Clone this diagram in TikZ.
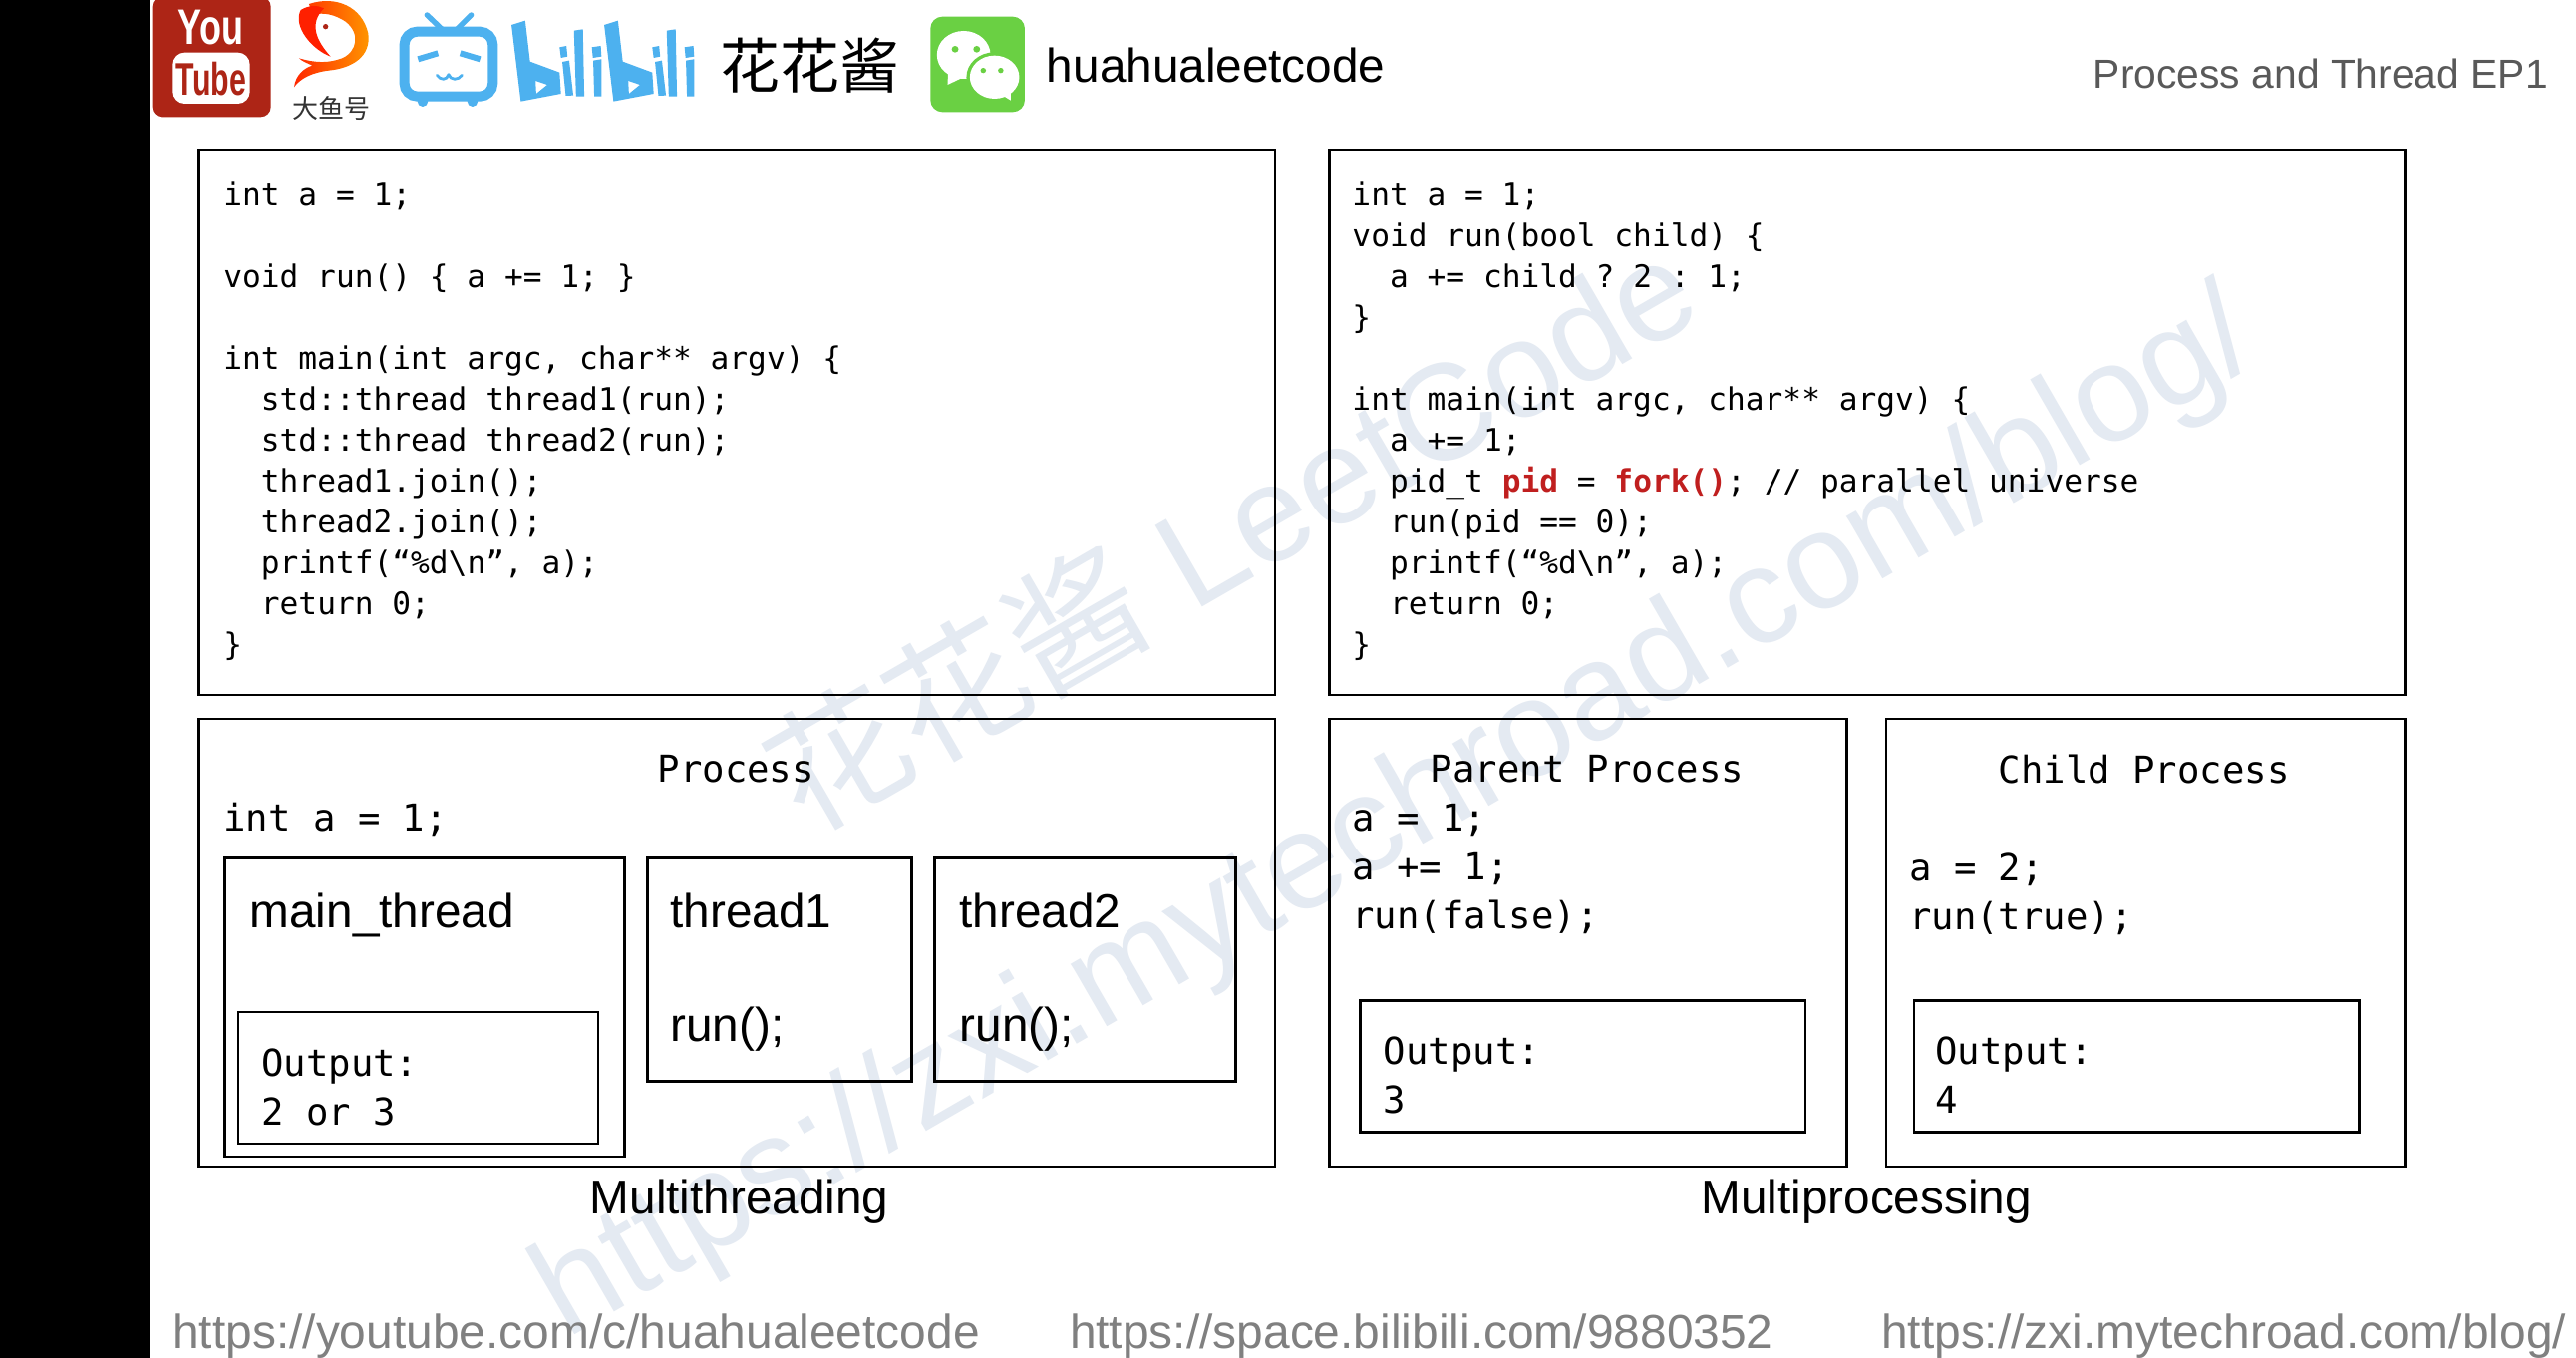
\documentclass[tikz,border=0pt]{standalone}
\usepackage{fontspec}
\setmainfont{Liberation Sans}
\setmonofont{DejaVu Sans Mono}
\newfontfamily\cjk{Noto Sans CJK SC}
\definecolor{wm}{HTML}{E4EAF2}
\definecolor{ytred}{HTML}{AD2516}
\definecolor{bili}{HTML}{4DB1EF}
\definecolor{wxgreen}{HTML}{6AD043}
\definecolor{forkred}{HTML}{C01F1F}
\definecolor{linkgray}{HTML}{808080}
\definecolor{titlegray}{HTML}{595959}
\newcommand{\ind}{\hspace*{37.6pt}}
\newcommand{\rd}[1]{\textcolor{forkred}{\bfseries #1}}
\tikzset{
  box/.style={draw=black,line width=2.6pt},
  codeblock/.style={anchor=north west,inner sep=0pt,align=left,font=\ttfamily\fontsize{31.2}{41}\selectfont},
  bigcode/.style={inner sep=0pt,align=left,font=\ttfamily\fontsize{37.3}{49}\selectfont},
  label/.style={inner sep=0pt,font=\fontsize{47.7}{56}\selectfont},
  linktext/.style={inner sep=0pt,anchor=base west,text=linkgray,font=\fontsize{47.9}{56}\selectfont},
  watermark/.style={inner sep=0pt,anchor=base west,rotate=30,text=wm},
  stroke/.style={draw=bili,line cap=round,line join=round},
}
\begin{document}
\begin{tikzpicture}[x=1.64796pt,y=-1.64796pt]
\useasboundingbox (0,0) rectangle (1568,826.47);
\fill[white] (0,0) rectangle (1568,826.47);
\fill[black] (0,0) rectangle (91,826.47);
% watermarks
\node[watermark,font=\fontsize{137}{150}\selectfont] (wmone) at (490,509) {{\cjk 花花酱} LeetCode};
\node[watermark,font=\fontsize{137}{150}\selectfont] (wmtwo) at (345,815) {https://zxi.mytechroad.com/blog/};
% code boxes
\draw[box] (121,91) rectangle (776,423);
\draw[box] (809,91) rectangle (1464,423);
\node[codeblock] (codeone) at (136,110.5) {int a = 1;\\\mbox{}\\void run() \{ a += 1; \}\\\mbox{}\\int main(int argc, char** argv) \{\\\ind std::thread thread1(run);\\\ind std::thread thread2(run);\\\ind thread1.join();\\\ind thread2.join();\\\ind printf(“\%d\textbackslash n”, a);\\\ind return 0;\\\}};
\node[codeblock] (codetwo) at (823,110.5) {int a = 1;\\void run(bool child) \{\\\ind a += child ? 2 : 1;\\\}\\\mbox{}\\int main(int argc, char** argv) \{\\\ind a += 1;\\\ind pid\_t \rd{pid} = \rd{fork()}; // parallel universe\\\ind run(pid == 0);\\\ind printf(“\%d\textbackslash n”, a);\\\ind return 0;\\\}};
% process boxes
\draw[box] (121,437.5) rectangle (776,710);
\draw[box] (137,522) rectangle (380,704);
\draw[box] (145,616) rectangle (364,696);
\draw[box] (394,522) rectangle (555,658);
\draw[box] (569,522) rectangle (752,658);
\draw[box] (809,437.5) rectangle (1124,710);
\draw[box] (1148,437.5) rectangle (1464,710);
\draw[box] (828,609) rectangle (1099,689);
\draw[box] (1165,609) rectangle (1436,689);
\node[bigcode] (proc) at (448,468) {Process};
\node[bigcode,anchor=west] (procint) at (136,498.5) {int a = 1;};
\node[bigcode,anchor=north west] (outa) at (159,638) {Output:\\2 or 3};
\node[bigcode] (parent) at (966,468) {Parent Process};
\node[bigcode,anchor=north west] (parentcode) at (823,489) {a = 1;\\a += 1;\\run(false);};
\node[bigcode] (child) at (1305,468) {Child Process};
\node[bigcode,anchor=north west] (childcode) at (1162,519) {a = 2;\\run(true);};
\node[bigcode,anchor=north west] (outb) at (842,631) {Output:\\3};
\node[bigcode,anchor=north west] (outc) at (1178,631) {Output:\\4};
\node[label,anchor=base west] (mainth) at (152,564.5) {main\_thread};
\node[label,anchor=base west] (thone) at (408,564.5) {thread1};
\node[label,anchor=base west] (runone) at (408,634) {run();};
\node[label,anchor=base west] (thtwo) at (584,564.5) {thread2};
\node[label,anchor=base west] (runtwo) at (584,634) {run();};
\node[label,anchor=base] (mt) at (450,739) {Multithreading};
\node[label,anchor=base] (mp) at (1136,739) {Multiprocessing};
% header and footer text
\node[inner sep=0pt,anchor=base east,text=titlegray,font=\fontsize{40.8}{48}\selectfont] (title) at (1551,54) {Process and Thread EP1};
\node[label,anchor=base west] (hh) at (637,50) {huahualeetcode};
\node[inner sep=0pt,font=\cjk\fontsize{60}{66}\selectfont] (hhj) at (493,40) {花花酱};
\node[linktext] (linka) at (105,821) {https://youtube.com/c/huahualeetcode};
\node[linktext] (linkb) at (651,821) {https://space.bilibili.com/9880352};
\node[linktext] (linkc) at (1145,821) {https://zxi.mytechroad.com/blog/};
% logos, in px/3 units from x=150
\begin{scope}[xshift=150pt,x=0.3333pt,y=-0.3333pt]
  % YouTube
  \fill[ytred,rounded corners=10pt] (8,-10) rectangle (365,352);
  \fill[white,rounded corners=12pt] (70,158) rectangle (302,312);
  \node[inner sep=0pt,text=white,font=\bfseries\fontsize{50}{50}\selectfont,xscale=0.72] (you) at (184,84) {You};
  \node[inner sep=0pt,text=ytred,font=\bfseries\fontsize{46}{46}\selectfont,xscale=0.66] (tube) at (186,236) {Tube};
  % fish
  \shade[left color=red!70!orange,right color=orange!80!yellow]
    (480,12) .. controls (560,-15) and (640,20) .. (658,100) .. controls (668,170) and (610,205) .. (540,212)
    .. controls (490,218) and (455,235) .. (435,262) .. controls (440,225) and (465,205) .. (490,197)
    .. controls (475,190) and (460,185) .. (450,175) .. controls (500,190) and (540,190) .. (580,175)
    .. controls (625,155) and (635,100) .. (590,65) .. controls (560,45) and (525,35) .. (490,45) -- cycle;
  \fill[red!75!orange]
    (455,30) .. controls (430,80) and (490,150) .. (545,170) .. controls (500,120) and (480,70) .. (525,25)
    .. controls (505,15) and (480,15) .. (455,30) -- cycle;
  \fill[ytred] (530,80) circle (8);
  \node[inner sep=0pt,text=black!80,font=\cjk\fontsize{26}{28}\selectfont] (dayu) at (548,326) {大鱼号};
  % TV
  \draw[stroke,line width=5.4pt] (835,45) -- (880,88) (968,45) -- (925,88);
  \fill[bili] (822,305) circle (16) (972,305) circle (16);
  \draw[bili,line width=10pt,fill=white,rounded corners=13pt] (767,95) rectangle (1033,290);
  \draw[stroke,line width=6pt,line cap=butt] (808,178) -- (868,160) (935,160) -- (995,178);
  \draw[stroke,line width=2.8pt] (865,226) .. controls (875,242) and (895,242) .. (900,224) .. controls (905,242) and (930,242) .. (940,226);
\end{scope}
\begin{scope}[xshift=500pt,x=0.3444pt,y=-0.3333pt]
  % bilibili wordmark
  \foreach \o in {0,270}{
    \begin{scope}[shift={(\o,0)}]
      \fill[bili,even odd rule]
        (38,75) -- (78,62) -- (92,185) -- (178,218) -- (182,282) -- (65,305) -- cycle
        (108,243) -- (142,255) -- (110,282) -- cycle;
      \fill[bili] (178,142) -- (198,138) -- (201,170) -- (182,174) -- cycle;
      \fill[bili] (186,186) -- (206,182) -- (218,287) -- (196,288) -- cycle;
      \fill[bili] (220,92) -- (246,88) -- (250,290) -- (226,290) -- cycle;
      \fill[bili] (272,142) -- (298,138) -- (300,170) -- (275,174) -- cycle;
      \fill[bili] (276,182) -- (300,178) -- (300,290) -- (279,290) -- cycle;
    \end{scope}
  }
  % WeChat
  \fill[wxgreen,rounded corners=12pt] (1258,50) rectangle (1533,337);
  \fill[white] (1355,165) ellipse (78 and 72);
  \fill[white] (1310,210) -- (1308,255) -- (1355,232) -- cycle;
  \fill[wxgreen] (1445,232) ellipse (82 and 75);
  \fill[white] (1445,232) ellipse (72 and 65);
  \fill[white] (1465,285) -- (1492,302) -- (1492,270) -- cycle;
  \fill[wxgreen] (1330,148) circle (10) (1393,148) circle (10) (1412,212) circle (8) (1463,212) circle (8);
\end{scope}
\end{tikzpicture}
\end{document}
